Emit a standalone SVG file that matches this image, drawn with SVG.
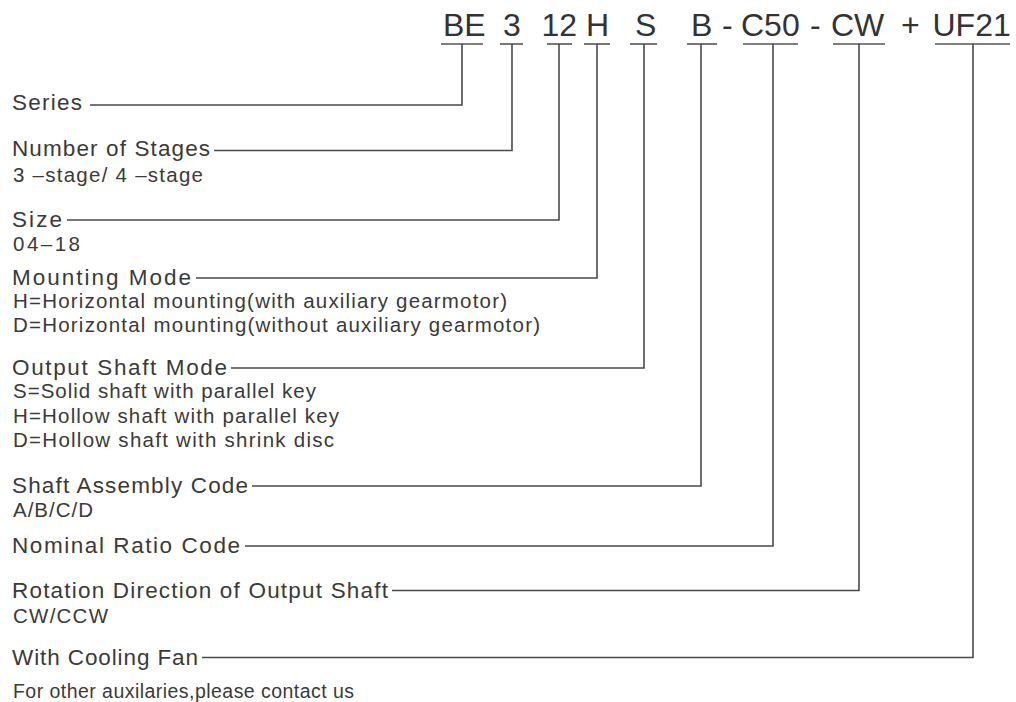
<svg xmlns="http://www.w3.org/2000/svg" width="1016" height="702" viewBox="0 0 1016 702">
<style>
.code{font-family:"Liberation Sans",Arial,sans-serif;font-size:32px;fill:#333}
.lbl{font-family:"Liberation Sans",Arial,sans-serif;font-size:22.5px;fill:#3a3a3a}
.sub{font-family:"Liberation Sans",Arial,sans-serif;font-size:20.5px;fill:#3a3a3a}
.note{font-family:"Liberation Sans",Arial,sans-serif;font-size:19.5px;fill:#3a3a3a}
.ul{stroke:#555;stroke-width:1.6;fill:none}
.con{stroke:#4a4a4a;stroke-width:1.6;fill:none}
</style>
<rect width="1016" height="702" fill="#ffffff"/>
<g id="code-separators">
<text class="code" x="722" y="36">-</text>
<text class="code" x="810" y="36">-</text>
<text class="code" x="901" y="36">+</text>
</g>
<g id="series">
<text class="code" x="443" y="36">BE</text>
<line class="ul" x1="441" y1="44" x2="483" y2="44"/>
<text class="lbl" x="12" y="110" textLength="70" lengthAdjust="spacing">Series</text>
</g>
<g id="stages">
<text class="code" x="503" y="36">3</text>
<line class="ul" x1="500" y1="44" x2="523" y2="44"/>
<text class="lbl" x="12" y="156" textLength="198" lengthAdjust="spacing">Number of Stages</text>
<text class="sub" x="13" y="182" textLength="190" lengthAdjust="spacing">3 –stage/ 4 –stage</text>
</g>
<g id="size">
<text class="code" x="541.5" y="36">12</text>
<line class="ul" x1="547" y1="44" x2="572" y2="44"/>
<text class="lbl" x="12" y="226.5" textLength="50" lengthAdjust="spacing">Size</text>
<text class="sub" x="13" y="251" textLength="67" lengthAdjust="spacing">04–18</text>
</g>
<g id="mounting">
<text class="code" x="586" y="36">H</text>
<line class="ul" x1="584" y1="44" x2="610" y2="44"/>
<text class="lbl" x="12" y="285" textLength="179" lengthAdjust="spacing">Mounting Mode</text>
<text class="sub" x="13" y="308" textLength="494" lengthAdjust="spacing">H=Horizontal mounting(with auxiliary gearmotor)</text>
<text class="sub" x="13" y="332" textLength="527" lengthAdjust="spacing">D=Horizontal mounting(without auxiliary gearmotor)</text>
</g>
<g id="output-shaft">
<text class="code" x="635" y="36">S</text>
<line class="ul" x1="630" y1="44" x2="657" y2="44"/>
<text class="lbl" x="12" y="375" textLength="215" lengthAdjust="spacing">Output Shaft Mode</text>
<text class="sub" x="13" y="398" textLength="303" lengthAdjust="spacing">S=Solid shaft with parallel key</text>
<text class="sub" x="13" y="422.5" textLength="326" lengthAdjust="spacing">H=Hollow shaft with parallel key</text>
<text class="sub" x="13" y="447" textLength="321" lengthAdjust="spacing">D=Hollow shaft with shrink disc</text>
</g>
<g id="assembly">
<text class="code" x="691" y="36">B</text>
<line class="ul" x1="687" y1="44" x2="717" y2="44"/>
<text class="lbl" x="12" y="493" textLength="236" lengthAdjust="spacing">Shaft Assembly Code</text>
<text class="sub" x="13" y="517" textLength="80" lengthAdjust="spacing">A/B/C/D</text>
</g>
<g id="ratio">
<text class="code" x="741" y="36">C50</text>
<line class="ul" x1="743" y1="44" x2="798" y2="44"/>
<text class="lbl" x="12" y="553" textLength="228" lengthAdjust="spacing">Nominal Ratio Code</text>
</g>
<g id="rotation">
<text class="code" x="831" y="36">CW</text>
<line class="ul" x1="833" y1="44" x2="885" y2="44"/>
<text class="lbl" x="12" y="598" textLength="376" lengthAdjust="spacing">Rotation Direction of Output Shaft</text>
<text class="sub" x="13" y="623" textLength="95" lengthAdjust="spacing">CW/CCW</text>
</g>
<g id="fan">
<text class="code" x="932.5" y="36">UF21</text>
<line class="ul" x1="935" y1="44" x2="1010" y2="44"/>
<text class="lbl" x="12" y="665" textLength="186" lengthAdjust="spacing">With Cooling Fan</text>
<text class="note" x="13" y="698" textLength="341" lengthAdjust="spacing">For other auxilaries,please contact us</text>
</g>
<g id="connectors">
<path class="con" d="M90 105H462V44"/>
<path class="con" d="M214 150.5H512V44"/>
<path class="con" d="M67 220H559V44"/>
<path class="con" d="M196 278H597V44"/>
<path class="con" d="M231 368H644V44"/>
<path class="con" d="M252 486H701V44"/>
<path class="con" d="M245 546H773V44"/>
<path class="con" d="M392 590.5H859V44"/>
<path class="con" d="M202 657.5H973V44"/>
</g>
</svg>
